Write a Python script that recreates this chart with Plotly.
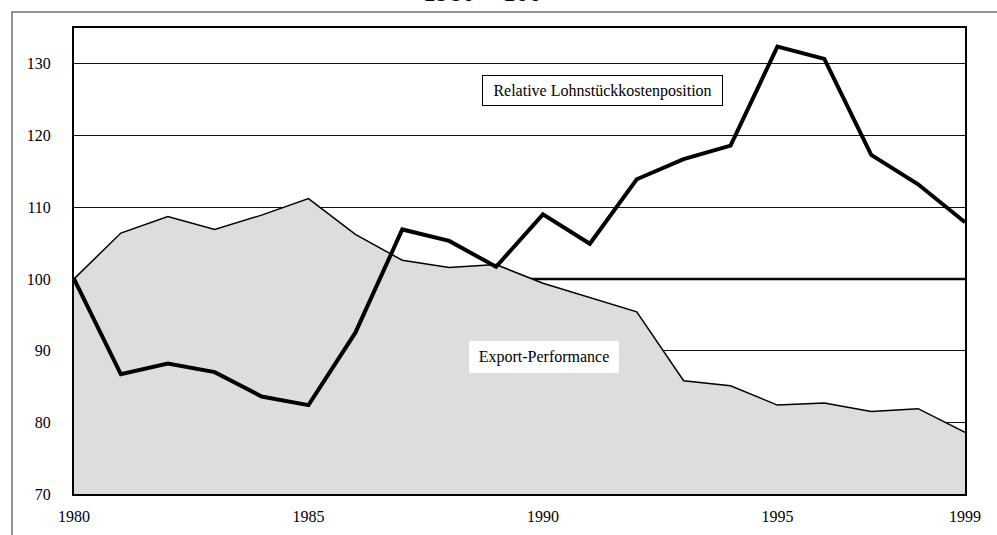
import plotly.graph_objects as go

years = list(range(1980, 2000))
export_performance = [100.0, 106.4, 108.7, 106.9, 108.9, 111.2, 106.2, 102.6, 101.6, 102.0,
                      99.4, 97.4, 95.4, 85.8, 85.1, 82.4, 82.7, 81.5, 81.9, 78.6]
lohnstueck = [100.0, 86.7, 88.2, 87.0, 83.6, 82.4, 92.5, 106.9, 105.3, 101.7,
              109.0, 104.9, 113.9, 116.7, 118.6, 132.4, 130.7, 117.3, 113.2, 107.9]
x_ticks = [1980, 1985, 1990, 1995, 1999]
y_ticks = [70, 80, 90, 100, 110, 120, 130]
label_lohn = "Relative Lohnstückkostenposition"
label_export = "Export-Performance"
title_text = "1980 = 100"

FONT = "Liberation Serif, Times New Roman, serif"

fig = go.Figure()
fig.add_trace(go.Scatter(
    x=years, y=export_performance, mode="lines", fill="tozeroy",
    fillcolor="#DDDDDD", line=dict(color="black", width=1.5), showlegend=False,
    hoverinfo="skip"))
fig.add_trace(go.Scatter(
    x=years, y=lohnstueck, mode="lines",
    line=dict(color="black", width=4), showlegend=False, hoverinfo="skip"))

fig.update_layout(
    width=997, height=535,
    margin=dict(l=74, r=32, t=28, b=41, autoexpand=False),
    paper_bgcolor="white", plot_bgcolor="white",
    font=dict(family=FONT, size=16, color="black"),
    showlegend=False,
    xaxis=dict(range=[1980, 1999], tickvals=x_ticks, ticks="", showgrid=False,
               zeroline=False, showline=True, linecolor="black", linewidth=2,
               mirror=True, ticklabelstandoff=7, automargin=False,
               tickfont=dict(family=FONT, size=16)),
    yaxis=dict(range=[70, 135], tickvals=y_ticks, ticks="", showgrid=True,
               gridcolor="#111111", gridwidth=1, zeroline=False,
               showline=True, linecolor="black", linewidth=2, mirror=True,
               ticklabelstandoff=18, automargin=False,
               tickfont=dict(family=FONT, size=16)),
)

# thicker reference line at 100, below traces
fig.add_shape(type="line", xref="paper", yref="y", x0=0, x1=1, y0=100, y1=100,
              line=dict(color="black", width=2.5), layer="below")

# outer grey frame
fig.add_shape(type="rect", xref="paper", yref="paper",
              x0=-0.0696, x1=1.06, y0=-0.12, y1=1.0343,
              line=dict(color="#707070", width=1.5), fillcolor="rgba(0,0,0,0)",
              layer="above")

fig.add_annotation(x=1991.28, y=126.33, xref="x", yref="y", text=label_lohn,
                   showarrow=False, font=dict(family=FONT, size=16, color="black"),
                   bgcolor="white", bordercolor="black", borderwidth=1, borderpad=1,
                   width=237, height=27)
fig.add_annotation(x=1990.02, y=89.17, xref="x", yref="y", text=label_export,
                   showarrow=False, font=dict(family=FONT, size=16, color="black"),
                   bgcolor="white", borderwidth=0, borderpad=0,
                   width=150, height=32)
fig.add_annotation(x=0.459, y=1.0408, xref="paper", yref="paper", text=title_text,
                   showarrow=False, yanchor="bottom", xanchor="center",
                   font=dict(family=FONT, size=26, color="black"))

fig.write_html("out.html",
               config={"displayModeBar": False},
               post_script="document.body.style.margin='0';document.body.style.overflow='hidden';")
